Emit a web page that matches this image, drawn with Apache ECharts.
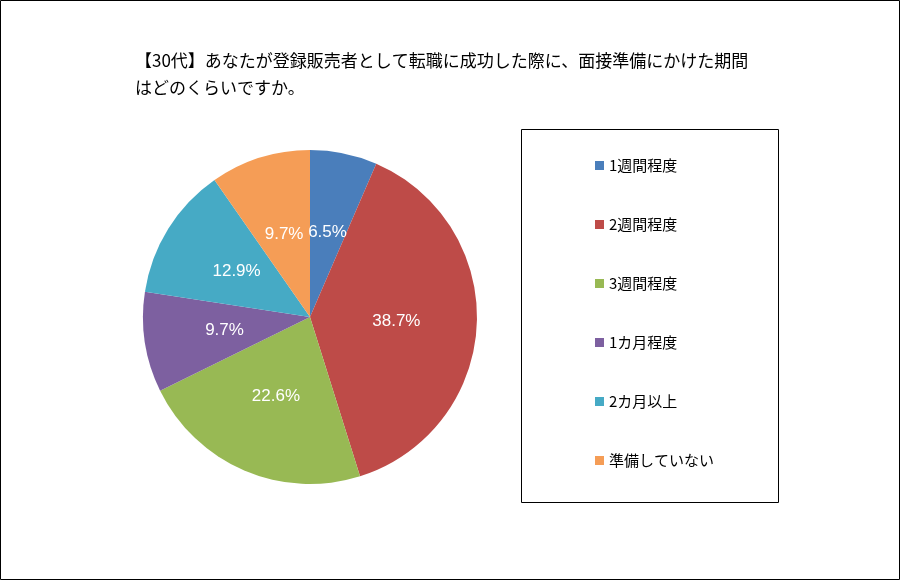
<!DOCTYPE html>
<html><head><meta charset="utf-8">
<script src="https://cdn.jsdelivr.net/npm/echarts@6/dist/echarts.min.js"></script>
<style>html,body{margin:0;padding:0;background:#fff}#c{width:900px;height:580px}</style>
</head><body><div id="c"></div>
<script>
const categories = ['1週間程度','2週間程度','3週間程度','1カ月程度','2カ月以上','準備していない'];
const values = [6.5, 38.7, 22.6, 9.7, 12.9, 9.7];
const colors = ['#4A7EBB','#BE4B48','#98B954','#7D60A0','#46AAC5','#F59D56'];
const titleLines = ['【30代】あなたが登録販売者として転職に成功した際に、面接準備にかけた期間','はどのくらいですか。'];
const font = '"Noto Sans CJK JP", sans-serif';
const chart = echarts.init(document.getElementById('c'));
chart.setOption({
  animation:false,
  graphic:[
    {type:'rect',shape:{x:0.5,y:0.5,width:899,height:579},style:{fill:'none',stroke:'#000',lineWidth:1}},
    {type:'rect',shape:{x:521.5,y:129.5,width:257,height:373},style:{fill:'none',stroke:'#000',lineWidth:1}},
    {type:'text',left:135,top:47,style:{text:titleLines.join('\n'),font:'17px '+font,fill:'#000',lineHeight:27}}
  ],
  legend:{orient:'vertical',left:590,top:153,itemWidth:9,itemHeight:9,itemGap:44,icon:'rect',
    textStyle:{fontFamily:font,fontSize:15,color:'#000'},data:categories},
  series:[{type:'pie',center:[310,317],radius:167,startAngle:90,clockwise:true,
    color:colors,itemStyle:{borderColor:'#fff',borderWidth:0},
    label:{position:'inside',formatter:p=>p.value.toFixed(1)+'%',color:'#fff',fontSize:17,fontFamily:'Liberation Sans, Arial'},
    labelLine:{show:false},
    data:categories.map((c,i)=>({name:c,value:values[i]}))}]
});
</script></body></html>
